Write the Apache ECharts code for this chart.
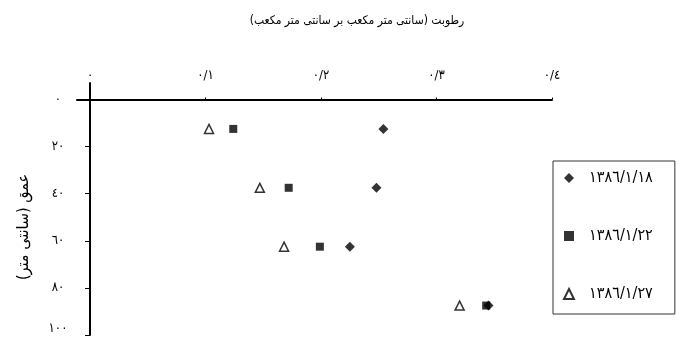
<!DOCTYPE html>
<html lang="fa">
<head>
    <meta charset="UTF-8">
    <title>رطوبت</title>
    <style>
        html, body { margin: 0; padding: 0; background: #fff; }
        #main { width: 676px; height: 337px; }
    </style>
</head>
<body>
    <div id="main"></div>
</body>
<script src="https://cdn.jsdelivr.net/npm/echarts@6/dist/echarts.min.js"></script>
<script>
    // tick values and their persian labels
    const xTicks = [0, 0.1, 0.2, 0.3, 0.4];
    const xTickLabels = ['٠', '٠/١', '٠/٢', '٠/٣', '٠/٤'];
    const yTicks = [0, 20, 40, 60, 80, 100];
    const yTickLabels = ['٠', '٢٠', '٤٠', '٦٠', '٨٠', '١٠٠'];

    // depth (cm) and moisture for each sampling date
    const depths = [12.5, 37.5, 62.5, 87.5];
    const dates = ['١٣٨٦/١/١٨', '١٣٨٦/١/٢٢', '١٣٨٦/١/٢٧'];
    const moist18 = [0.254, 0.248, 0.225, 0.345];
    const moist22 = [0.124, 0.172, 0.199, 0.343];
    const moist27 = [0.103, 0.147, 0.168, 0.320];

    const font = "'DejaVu Sans Condensed', 'DejaVu Sans', serif";

    function pairs(vals) {
        return vals.map((v, i) => [v, depths[i]]);
    }

    const chart = echarts.init(document.getElementById('main'));
    chart.setOption({
        animation: false,
        title: {
            text: 'رطوبت (سانتی متر مکعب بر سانتی متر مکعب)',
            left: 352,
            textAlign: 'center',
            top: 10,
            textStyle: { fontFamily: font, fontSize: 12, fontWeight: 'normal', color: '#000' }
        },
        legend: {
            orient: 'vertical',
            left: 553,
            top: 161,
            padding: [9, 22, 12, 10],
            itemGap: 42,
            itemWidth: 10,
            itemHeight: 10,
            borderColor: '#333',
            borderWidth: 1,
            textStyle: { fontFamily: font, fontSize: 16, color: '#000', padding: [0, 0, 0, 10] },
            data: dates
        },
        grid: { left: 77, right: 124, top: 83, bottom: 2 },
        xAxis: {
            type: 'value',
            position: 'top',
            min: -0.0113,
            max: 0.4,
            axisLine: { onZero: true, lineStyle: { color: '#000', width: 2 } },
            axisTick: { customValues: xTicks, length: 2, lineStyle: { color: '#000' } },
            axisLabel: {
                customValues: xTicks,
                margin: 1,
                color: '#000',
                fontFamily: font,
                fontSize: 13,
                formatter: v => xTickLabels[xTicks.indexOf(v)]
            },
            splitLine: { show: false }
        },
        yAxis: {
            type: 'value',
            inverse: true,
            min: -7,
            max: 100,
            name: 'عمق (سانتی متر)\u200F',
            nameLocation: 'middle',
            nameGap: 45,
            nameTextStyle: { fontFamily: font, fontSize: 16, color: '#000', padding: [0, 36, 0, 0] },
            axisLine: { onZero: true, lineStyle: { color: '#000', width: 2 } },
            axisTick: { customValues: [20, 40, 60, 80, 100], length: 5, lineStyle: { color: '#000' } },
            axisLabel: {
                customValues: yTicks,
                margin: 19,
                align: 'center',
                color: '#000',
                fontFamily: font,
                fontSize: 13,
                formatter: v => {
                    const s = yTickLabels[yTicks.indexOf(v)];
                    return v === 100 ? '{up|' + s + '}' : s;
                },
                rich: { up: { padding: [0, 0, 12, 0], fontFamily: font, fontSize: 13, color: '#000' } }
            },
            splitLine: { show: false }
        },
        series: [
            {
                name: dates[0],
                type: 'scatter',
                symbol: 'diamond',
                symbolSize: 10,
                itemStyle: { color: '#000' },
                data: pairs(moist18)
            },
            {
                name: dates[1],
                type: 'scatter',
                symbol: 'rect',
                symbolSize: 8,
                itemStyle: { color: '#000' },
                data: pairs(moist22)
            },
            {
                name: dates[2],
                type: 'scatter',
                symbol: 'triangle',
                symbolSize: 9,
                itemStyle: { color: '#fff', borderColor: '#000', borderWidth: 1.5 },
                data: pairs(moist27)
            }
        ]
    });
</script>
</html>
